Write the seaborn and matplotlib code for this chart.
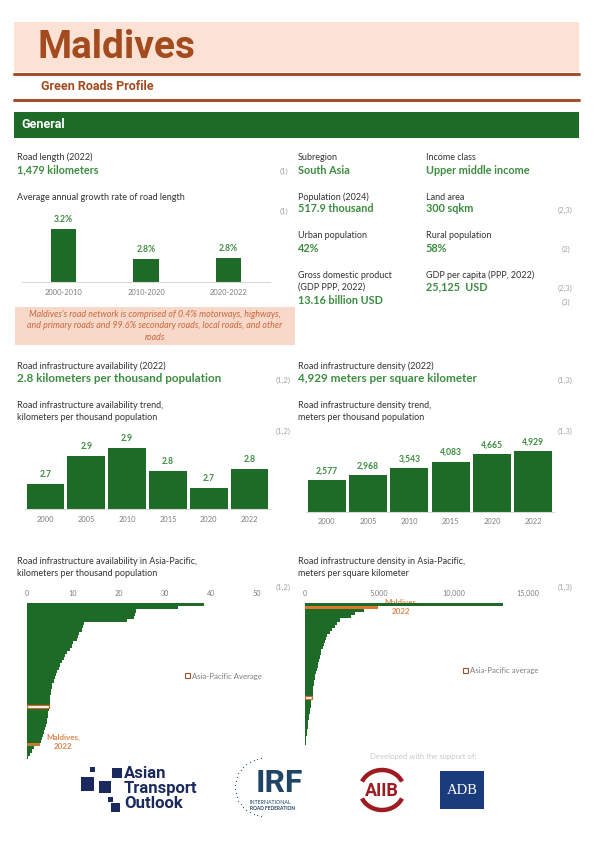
import matplotlib
matplotlib.use("Agg")
import matplotlib.pyplot as plt
import numpy as np
import pandas as pd
import seaborn as sns
from matplotlib import font_manager
from matplotlib.patches import Rectangle, Patch

# ---------------------------------------------------------------- datos
GROWTH_PERIODS = ["2000-2010", "2010-2020", "2020-2022"]
GROWTH_RATES = [3.18, 2.78, 2.79]

TREND_YEARS = ["2000", "2005", "2010", "2015", "2020", "2022"]
AVAIL_TREND = [2.73, 2.88, 2.92, 2.80, 2.71, 2.81]
DENSITY_TREND = [2577, 2968, 3543, 4083, 4665, 4929]

# disponibilidad Asia-Pacifico (km por mil habitantes), ordenado
AVAIL_AP = [38.5, 32.8, 23.8, 23.5, 23.2, 21.7, 12.4, 12.2, 12.0, 11.3,
            11.0, 10.8, 10.0, 9.7, 9.4, 8.6, 8.3, 8.0, 7.5, 7.2,
            6.9, 6.5, 6.3, 6.1, 5.9, 5.5, 5.4, 5.3, 5.2, 5.1,
            5.0, 4.9, 4.8, 4.7, 4.6, 4.5, 4.4, 4.3, 4.2, 4.0,
            3.6, 3.4, 3.2, 3.0, 2.8, 1.5, 1.0, 0.6, 0.3]
AVAIL_AP_AVG_IDX = 32
AVAIL_AP_MDV_IDX = 44

# densidad Asia-Pacifico (m por km2), ordenado
DENS_AP = [13300, 4929, 3960, 3360, 3090, 2350, 2150, 2050, 1800, 1700,
           1500, 1420, 1350, 1280, 1200, 1100, 1050, 1000, 950, 900,
           850, 780, 730, 700, 660, 620, 580, 560, 540, 510,
           480, 430, 400, 380, 350, 320, 290, 260, 230, 200,
           180, 150, 120, 100, 80, 50, 30]
DENS_AP_AVG_IDX = 30
DENS_AP_MDV_IDX = 1

# ---------------------------------------------------------------- estilo
W, H = 596, 842
GREEN = "#1D6B27"
GREEN_TXT = "#3C8D40"
BROWN = "#A0522D"
TITLE_BROWN = "#A34A1E"
PINK = "#FBE2D5"
NOTE_PINK = "#F8D8C8"
NOTE_TXT = "#C9683D"
ORANGE = "#D9782F"
ORANGE_TXT = "#E0874F"
DARK = "#333333"
GREY = "#A6A6A6"
TICK = "#7F7F7F"
NAVY = "#1B2A5E"

sns.set_theme(style="white")
installed = {f.name for f in font_manager.fontManager.ttflist}
HEAD = "Liberation Sans Narrow" if "Liberation Sans Narrow" in installed else "Roboto"
BODY = "Lato"
plt.rcParams["font.family"] = [BODY, "DejaVu Sans"]

fig = plt.figure(figsize=(W / 100, H / 100), dpi=100)
fig.patch.set_facecolor("white")

bg = fig.add_axes([0, 0, 1, 1])
bg.set_xlim(0, W)
bg.set_ylim(H, 0)
bg.axis("off")


def px_axes(x0, y0, x1, y1):
    """Crea un eje a partir de coordenadas en pixeles (origen arriba)."""
    return fig.add_axes([x0 / W, 1 - y1 / H, (x1 - x0) / W, (y1 - y0) / H])


def txt(x, y, s, size=6.5, color=DARK, weight="normal", ha="left", **kw):
    bg.text(x, y, s, fontsize=size, color=color, fontweight=weight,
            ha=ha, va="center", **kw)


VSIZE = 7.8


def label_value(x, y, label, value, ref=None, ref_x=None, vsize=VSIZE):
    txt(x, y, label)
    txt(x, y + 13, value, size=vsize, color=GREEN_TXT, weight="bold")
    if ref:
        txt(ref_x, y + 14, ref, size=5.6, color=GREY, ha="right")


# ---------------------------------------------------------------- cabecera
bg.add_patch(Rectangle((14, 22), 565, 50, color=PINK, lw=0))
txt(37, 47, "Maldives", size=28, color=TITLE_BROWN, weight="bold", family=HEAD)
bg.plot([14, 579], [73.5, 73.5], color=BROWN, lw=2.2)
txt(41, 86, "Green Roads Profile", size=9, color=TITLE_BROWN, weight="bold",
    family=HEAD)
bg.plot([14, 579], [99.5, 99.5], color=BROWN, lw=2.2)
bg.add_patch(Rectangle((14, 112), 565, 26, color=GREEN, lw=0))
txt(21, 125, "General", size=9, color="white", weight="bold", family=HEAD)

# ---------------------------------------------------------------- general
label_value(17, 157, "Road length (2022)", "1,479 kilometers", "(1)", 288)
txt(17, 197, "Average annual growth rate of road length")
txt(288, 211, "(1)", size=5.6, color=GREY, ha="right")

txt(298, 157, "Subregion")
txt(298, 170, "South Asia", size=VSIZE, color=GREEN_TXT, weight="bold")
txt(426, 157, "Income class")
txt(426, 170, "Upper middle income", size=VSIZE, color=GREEN_TXT, weight="bold")

txt(298, 197, "Population (2024)")
txt(298, 209, "517.9 thousand", size=VSIZE, color=GREEN_TXT, weight="bold")
txt(426, 197, "Land area")
txt(426, 209, "300 sqkm", size=VSIZE, color=GREEN_TXT, weight="bold")
txt(573, 210, "(2,3)", size=5.6, color=GREY, ha="right")

txt(298, 236, "Urban population")
txt(298, 248, "42%", size=VSIZE, color=GREEN_TXT, weight="bold")
txt(426, 236, "Rural population")
txt(426, 248, "58%", size=VSIZE, color=GREEN_TXT, weight="bold")
txt(570, 249, "(2)", size=5.6, color=GREY, ha="right")

txt(298, 275, "Gross domestic product")
txt(298, 287, "(GDP PPP, 2022)")
txt(298, 300, "13.16 billion USD", size=VSIZE, color=GREEN_TXT, weight="bold")
txt(426, 275, "GDP per capita (PPP, 2022)")
txt(426, 287, "25,125  USD", size=VSIZE, color=GREEN_TXT, weight="bold")
txt(573, 288, "(2,3)", size=5.6, color=GREY, ha="right")
txt(570, 302, "(3)", size=5.6, color=GREY, ha="right")

# nota sobre la red vial
bg.add_patch(Rectangle((15, 307), 280, 38, color=NOTE_PINK, lw=0))
nota = ("Maldives's road network is comprised of 0.4% motorways, highways,\n"
        "and primary roads and 99.6% secondary roads, local roads, and other\n"
        "roads")
bg.text(155, 326, nota, fontsize=6.4, color=NOTE_TXT, style="italic",
        ha="center", va="center", linespacing=1.35)


def bar_panel(ax, cats, vals, ylim, width, fmt, pad):
    sns.barplot(x=cats, y=vals, color=GREEN, saturation=1, width=width, ax=ax,
                linewidth=0)
    ax.set_ylim(*ylim)
    ax.bar_label(ax.containers[0], labels=[fmt.format(v) for v in vals],
                 padding=3.5, fontsize=6.2, color=GREEN_TXT, fontweight="bold")
    for lado in ["top", "right", "left"]:
        ax.spines[lado].set_visible(False)
    ax.spines["bottom"].set_color("#D9D9D9")
    ax.spines["bottom"].set_linewidth(0.8)
    ax.set_yticks([])
    ax.set_xlabel("")
    ax.set_ylabel("")
    ax.tick_params(axis="x", length=0, labelsize=5.4, labelcolor=TICK, pad=pad)
    ax.patch.set_alpha(0)


ax1 = px_axes(22, 210, 270, 282)
bar_panel(ax1, GROWTH_PERIODS, GROWTH_RATES, (2.47, 3.435), 0.31,
          "{:.1f}%", 5)

# ---------------------------------------------------------------- disponibilidad / densidad
label_value(17, 366, "Road infrastructure availability (2022)",
            "2.8 kilometers per thousand population", "(1,2)", 291, vsize=8.4)
label_value(298, 366, "Road infrastructure density (2022)",
            "4,929 meters per square kilometer", "(1,3)", 573, vsize=8.4)

txt(17, 406, "Road infrastructure availability trend,")
txt(17, 418, "kilometers per thousand population")
txt(291, 431, "(1,2)", size=5.6, color=GREY, ha="right")
txt(298, 406, "Road infrastructure density trend,")
txt(298, 418, "meters per thousand population")
txt(573, 431, "(1,3)", size=5.6, color=GREY, ha="right")

ax2 = px_axes(25, 435, 270, 509)
bar_panel(ax2, TREND_YEARS, AVAIL_TREND, (2.6, 2.988), 0.92, "{:.1f}", 4.7)

ax3 = px_axes(306, 430, 554, 512)
bar_panel(ax3, TREND_YEARS, DENSITY_TREND, (0, 6650), 0.92, "{:,.0f}", 4)

# ---------------------------------------------------------------- Asia-Pacifico
txt(17, 561, "Road infrastructure availability in Asia-Pacific,")
txt(17, 574, "kilometers per thousand population")
txt(291, 587, "(1,2)", size=5.6, color=GREY, ha="right")
txt(298, 561, "Road infrastructure density in Asia-Pacific,")
txt(298, 574, "meters per square kilometer")
txt(573, 587, "(1,3)", size=5.6, color=GREY, ha="right")


def ap_panel(ax, vals, avg_idx, mdv_idx, xlim, ticks, ticklabels, mdv_color):
    rank = [str(i) for i in range(len(vals))]
    sns.barplot(x=vals, y=rank, orient="h", color=GREEN, saturation=1,
                width=1.0, linewidth=0, edgecolor="none", ax=ax)
    barras = ax.patches
    for b in barras:
        b.set_linewidth(0)
    barras[avg_idx].set_facecolor("white")
    barras[avg_idx].set_edgecolor("#C8662E")
    barras[avg_idx].set_linewidth(0.9)
    barras[avg_idx].set_zorder(5)
    barras[mdv_idx].set_facecolor(mdv_color)
    ax.set_xlim(*xlim)
    ax.xaxis.tick_top()
    ax.set_xticks(ticks)
    ax.set_xticklabels(ticklabels)
    ax.set_yticks([])
    ax.set_xlabel("")
    ax.set_ylabel("")
    ax.tick_params(axis="x", length=0, labelsize=5.2, labelcolor=TICK, pad=4.3)
    for s in ax.spines.values():
        s.set_visible(False)
    ax.patch.set_alpha(0)
    return barras


ax4 = px_axes(27, 603, 257, 759)
ap_panel(ax4, AVAIL_AP, AVAIL_AP_AVG_IDX, AVAIL_AP_MDV_IDX, (0, 50),
         [0, 10, 20, 30, 40, 50], ["0", "10", "20", "30", "40", "50"],
         "#C47A2C")
txt(63, 742, "Maldives,\n2022", size=5.8, color=ORANGE_TXT, weight="bold",
    ha="center", linespacing=1.3)
ax4.legend(handles=[Patch(facecolor="white", edgecolor="#A0522D", lw=0.8)],
           labels=["Asia-Pacific Average"], loc="center left",
           bbox_to_anchor=(178 / W, 1 - 676 / H),
           bbox_transform=fig.transFigure, frameon=False, fontsize=5.6,
           handlelength=0.65, handleheight=0.65, handletextpad=0.25,
           labelcolor="#7F7F7F")

ax5 = px_axes(305, 603, 528, 748)
ap_panel(ax5, DENS_AP, DENS_AP_AVG_IDX, DENS_AP_MDV_IDX, (0, 15000),
         [0, 5000, 10000, 15000], ["0", "5,000", "10,000", "15,000"], ORANGE)
txt(401, 607, "Maldives,\n2022", size=5.8, color=ORANGE_TXT, weight="bold",
    ha="center", linespacing=1.3)
ax5.legend(handles=[Patch(facecolor="white", edgecolor="#A0522D", lw=0.8)],
           labels=["Asia-Pacific average"], loc="center left",
           bbox_to_anchor=(456 / W, 1 - 671 / H),
           bbox_transform=fig.transFigure, frameon=False, fontsize=5.6,
           handlelength=0.65, handleheight=0.65, handletextpad=0.25,
           labelcolor="#7F7F7F")

# ---------------------------------------------------------------- pie de pagina
txt(423, 756, "Developed with the support of:", size=5.6, color="#C8C8C8",
    ha="center")

# Asian Transport Outlook
for (x, y, w, h) in [(81, 777, 13, 14), (90, 767, 5, 5), (112, 768, 10, 10),
                     (99, 781, 12, 12), (108, 797, 5, 5), (111, 803, 9, 9)]:
    bg.add_patch(Rectangle((x, y), w, h, color=NAVY, lw=0))
txt(124, 774, "Asian", size=12, color=NAVY, weight="bold", family="Roboto")
txt(124, 789, "Transport", size=12, color=NAVY, weight="bold", family="Roboto")
txt(124, 804, "Outlook", size=12, color=NAVY, weight="bold", family="Roboto")

# IRF
ang = np.linspace(np.radians(95), np.radians(265), 22)
bg.scatter(264 + 29 * np.cos(ang), 787 - 29 * np.sin(ang), s=0.8,
           color="#2F5A78", lw=0)
txt(279, 783, "IRF", size=23, color="#1E4466", weight="bold", ha="center",
    family="Roboto")
txt(250, 802, "INTERNATIONAL", size=3.8, color="#1E4466")
txt(250, 809, "ROAD FEDERATION", size=3.5, color="#1E4466", weight="bold")

# AIIB: dos arcos rojos arriba y abajo del texto
t_sup = np.radians(np.linspace(25, 155, 40))
t_inf = np.radians(np.linspace(205, 335, 40))
for t in (t_sup, t_inf):
    bg.plot(382 + 22 * np.cos(t), 790 - 20 * np.sin(t), color="#9E1B22",
            lw=3.2, solid_capstyle="butt")
txt(382, 791, "AIIB", size=13, color="#9E1B22", weight="bold", ha="center",
    family="Roboto")

# ADB
bg.add_patch(Rectangle((440, 771), 44, 38, color="#1A3B7C", lw=0))
txt(462, 791, "ADB", size=10.5, color="white", ha="center",
    family="Liberation Serif")

fig.savefig("out.png", dpi=100, facecolor="white")
